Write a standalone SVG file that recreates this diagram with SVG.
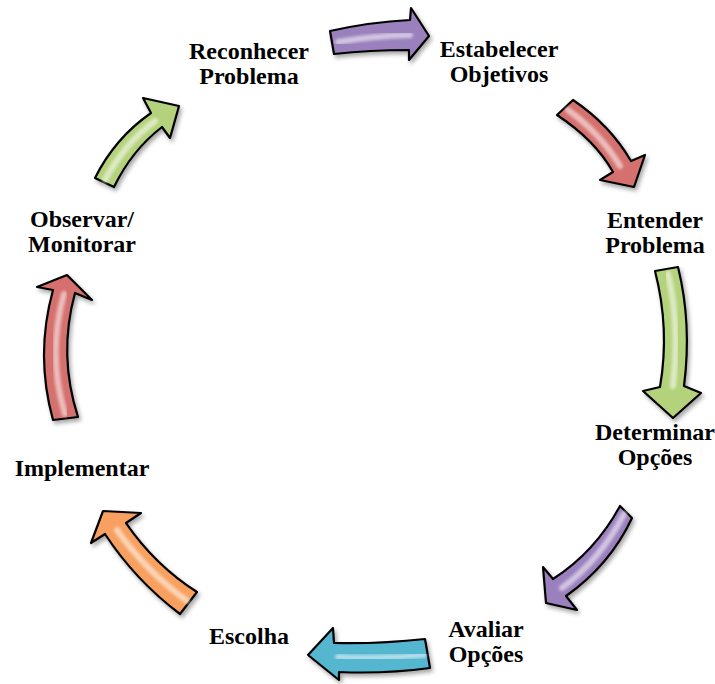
<svg xmlns="http://www.w3.org/2000/svg" width="715" height="684" viewBox="0 0 715 684">
<defs>
<filter id="sh" x="-20%" y="-20%" width="150%" height="150%">
<feDropShadow dx="2" dy="3" stdDeviation="2" flood-color="#000" flood-opacity="0.35"/>
</filter>
<filter id="bl" x="-20%" y="-20%" width="140%" height="140%">
<feGaussianBlur stdDeviation="1.6"/>
</filter>
<style>
.ar{stroke:#000;stroke-width:2.2;stroke-linejoin:round;filter:url(#sh)}
.hl{fill:none;stroke:#fff;stroke-width:6;stroke-linecap:round;opacity:0.55;filter:url(#bl)}
.purple{fill:#9a80bd}
.red{fill:#d46f6d}
.green{fill:#b4d27c}
.cyan{fill:#55b6cf}
.orange{fill:#f7a05f}
.lbl{font-family:"Liberation Serif","Times New Roman",serif;font-weight:bold;font-size:24px;fill:#000;text-anchor:middle}
</style>
</defs>
<g id="connectors">
<g id="a1"><path class="ar purple" d="M 330,31 Q 370,22 410,20 L 411,8 L 429,36 L 409,60 L 409,50 Q 370,50 334,54 Z"/><path class="hl" d="M 338,42 Q 372,36 410,35"/></g>
<g id="a2"><path class="ar red" d="M 573,100 Q 610,125 631,161 L 645,155 L 634,187 L 600,180 L 613,172 Q 595,140 557,115 Z"/><path class="hl" d="M 568,110 Q 600,133 620,166"/></g>
<g id="a3"><path class="ar green" d="M 655,271 L 678,267 Q 692,324 684,386 L 701,393 L 673,418 L 643,391 L 660,387 Q 670,329 655,271 Z"/><path class="hl" d="M 668,274 Q 680,324 673,386"/></g>
<g id="a4"><path class="ar purple" d="M 620,506 L 632,518 Q 610,565 566,596 L 577,610 L 546,603 L 543,567 L 553,579 Q 595,552 620,506 Z"/><path class="hl" d="M 624,514 Q 600,560 562,588"/></g>
<g id="a5"><path class="ar cyan" d="M 430,668 Q 385,674 339,672 L 339,680 L 308,655 L 333,628 L 334,643 Q 380,644 425,639 Z"/><path class="hl" d="M 424,655 Q 382,659 338,657"/></g>
<g id="a6"><path class="ar orange" d="M 180,614 Q 135,580 105,534 L 91,543 L 103,511 L 141,513 L 126,523 Q 155,565 197,592 Z"/><path class="hl" d="M 187,601 Q 145,570 117,530"/></g>
<g id="a7"><path class="ar red" d="M 53,420 Q 35,355 53,290 L 37,287 L 67,275 L 92,300 L 75,293 Q 58,355 78,417 Z"/><path class="hl" d="M 65,414 Q 47,355 64,294"/></g>
<g id="a8"><path class="ar green" d="M 95,178 Q 115,138 151,113 L 143,98 L 179,106 L 170,138 L 162,127 Q 132,150 114,187 Z"/><path class="hl" d="M 105,180 Q 125,143 155,121"/></g>
</g>
<g id="n1"><text class="lbl" x="249" y="59">Reconhecer</text><text class="lbl" x="249" y="84">Problema</text></g>
<g id="n2"><text class="lbl" x="499" y="57">Estabelecer</text><text class="lbl" x="499" y="82">Objetivos</text></g>
<g id="n3"><text class="lbl" x="655" y="228">Entender</text><text class="lbl" x="655" y="253">Problema</text></g>
<g id="n4"><text class="lbl" x="655" y="440">Determinar</text><text class="lbl" x="655" y="465">Opções</text></g>
<g id="n5"><text class="lbl" x="486" y="637">Avaliar</text><text class="lbl" x="486" y="662">Opções</text></g>
<g id="n6"><text class="lbl" x="249" y="644">Escolha</text></g>
<g id="n7"><text class="lbl" x="82" y="476">Implementar</text></g>
<g id="n8"><text class="lbl" x="82" y="227">Observar/</text><text class="lbl" x="82" y="252">Monitorar</text></g>
</svg>
